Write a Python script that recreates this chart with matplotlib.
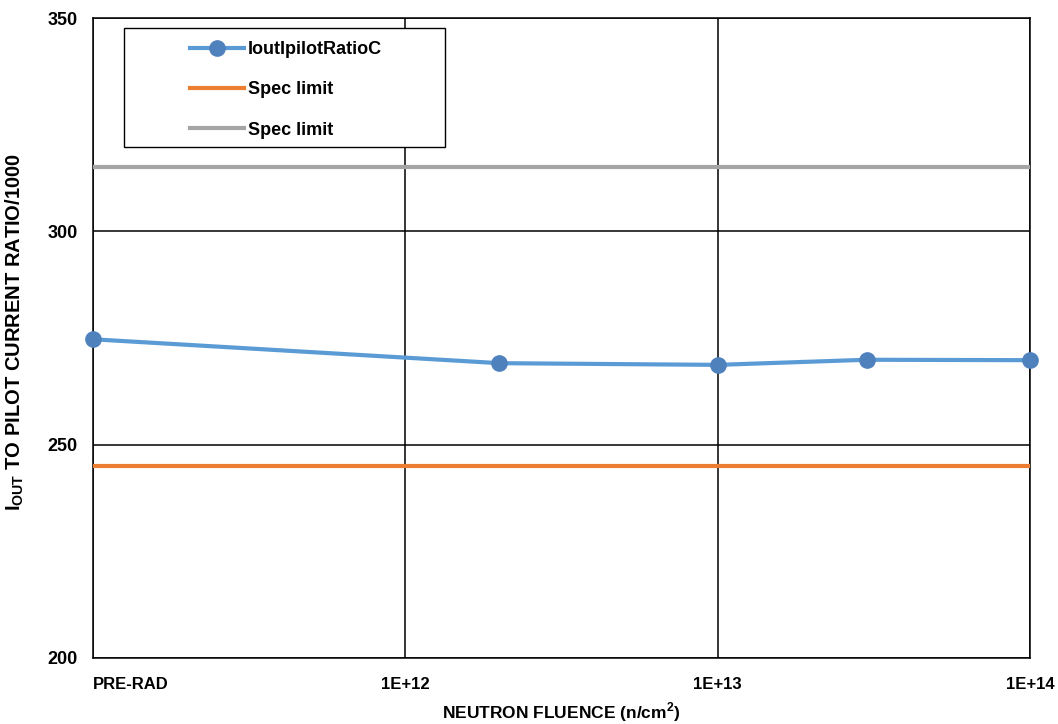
import matplotlib
matplotlib.use("Agg")
import matplotlib.pyplot as plt
from matplotlib.patches import Rectangle

# fluence points (PRE-RAD drawn at 1e11 on the log axis)
fluence = [1e11, 2e12, 1e13, 3e13, 1e14]
ratio = [274.7, 269.1, 268.7, 269.9, 269.8]
spec_low = 245
spec_high = 315

xticks = [1e11, 1e12, 1e13, 1e14]
xtick_labels = ["PRE-RAD", "1E+12", "1E+13", "1E+14"]
yticks = [200, 250, 300, 350]

plt.rcParams["font.family"] = ["Liberation Sans", "DejaVu Sans"]
plt.rcParams["font.weight"] = "bold"
plt.rcParams["mathtext.fontset"] = "custom"
plt.rcParams["mathtext.rm"] = "Liberation Sans:bold"
plt.rcParams["mathtext.bf"] = "Liberation Sans:bold"

fig = plt.figure(figsize=(10.58, 7.24), dpi=100)
ax = fig.add_axes([0.0879, 0.0912, 0.8856, 0.8839])

ax.set_xscale("log")
ax.set_xlim(1e11, 1e14)
ax.set_ylim(200, 350)

ax.plot(fluence, ratio, color="#5B9BD5", linewidth=3, marker="o",
        markersize=11, markerfacecolor="#4F81BD", markeredgecolor="#4F81BD",
        label="IoutIpilotRatioC", zorder=4, clip_on=False)
ax.plot([1e11, 1e14], [spec_low, spec_low], color="#ED7D31", linewidth=3,
        label="Spec limit", zorder=3)
ax.plot([1e11, 1e14], [spec_high, spec_high], color="#A5A5A5", linewidth=3,
        label="Spec limit", zorder=3)

ax.set_xticks(xticks)
ax.set_xticklabels(xtick_labels, fontsize=12, fontweight="bold")
ax.xaxis.set_minor_locator(matplotlib.ticker.NullLocator())
ax.set_yticks(yticks)
ax.set_yticklabels([str(v) for v in yticks], fontsize=13, fontweight="bold")
ax.tick_params(axis="both", length=0)
ax.tick_params(axis="x", pad=14)
ax.tick_params(axis="y", pad=11)
ax.get_xticklabels()[0].set_horizontalalignment("left")

ax.grid(True, color="black", linewidth=1.1)
ax.set_axisbelow(True)
for s in ax.spines.values():
    s.set_color("black")
    s.set_linewidth(1.1)

ax.set_xlabel(r"NEUTRON FLUENCE (n/cm$^{2}$)", fontsize=12.5, fontweight="bold")
ax.xaxis.set_label_coords(0.5, -0.066)
ax.set_ylabel(r"I$_{\mathrm{OUT}}$ TO PILOT CURRENT RATIO/1000", fontsize=14.5,
              fontweight="bold")
ax.yaxis.set_label_coords(-0.071, 0.51)

# legend box drawn separately so its size matches the reference
ax.add_patch(Rectangle((0.033, 0.798), 0.3426, 0.186, transform=ax.transAxes,
                       facecolor="white", edgecolor="black", linewidth=1,
                       zorder=5))
leg = ax.legend(loc="upper left", bbox_to_anchor=(0.098, 0.972), frameon=False,
                prop={"weight": "bold", "size": 13}, handlelength=3.0,
                handletextpad=0.2, labelspacing=1.28, borderpad=0.3,
                borderaxespad=0)
leg.set_zorder(6)

fig.savefig("out.png", dpi=100)
